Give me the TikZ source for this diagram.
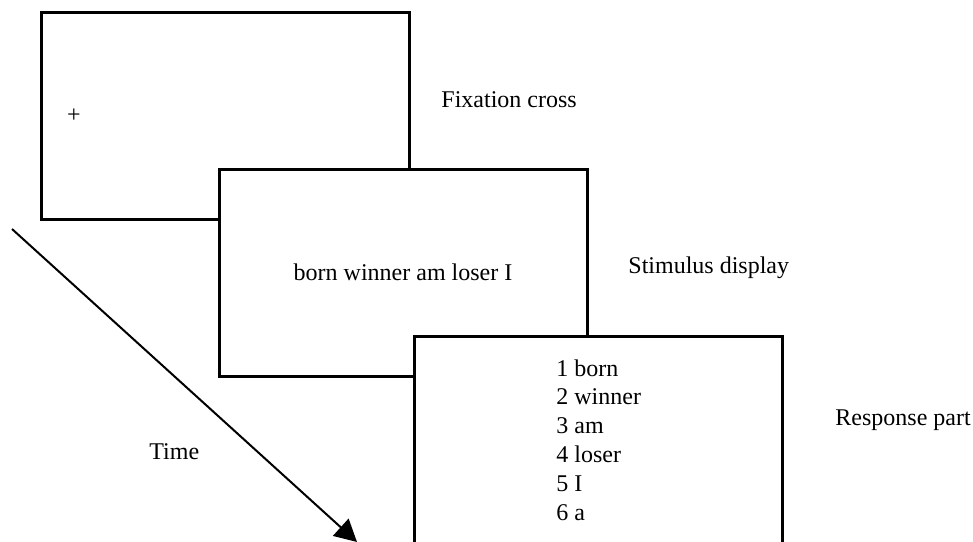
\documentclass[tikz,border=0pt]{standalone}
\usepackage{fontspec}
\setmainfont{Liberation Serif}
\usepackage{tikz}
\usetikzlibrary{arrows.meta, positioning}

\tikzset{
  screen/.style = {draw, line width=1.5pt, fill=white, minimum width=184pt, minimum height=103.5pt, inner sep=0pt, font=\fontsize{12}{14.4}\selectfont},
  lbl/.style = {inner sep=0pt, font=\fontsize{12}{14.4}\selectfont},
  timearrow/.style = {line width=1pt, -{Triangle[length=11pt, width=11.5pt]}}
}

\begin{document}
\begin{tikzpicture}[x=0.5pt, y=-0.5pt]
\useasboundingbox (0,0) rectangle (973,541);
\clip (0,0) rectangle (973,541);
\node[screen] (fix) at (225,115.5) {};
\node[lbl] (cross) at (74,116) {+};
\node[screen] (stim) at (403,272.5) {born winner am loser I};
\node[screen] (resp) at (598,439.5) {};
\foreach \w [count=\i] in {born, winner, am, loser, I, a}
  \node[lbl, anchor=base west] (r\i) at (556,{376+28.8*(\i-1)}) {\i\ \w};
\node[lbl, anchor=base west] (fixlbl) at (441,107) {Fixation cross};
\node[lbl, anchor=base west] (stimlbl) at (628,273) {Stimulus display};
\node[lbl, anchor=base west] (resplbl) at (835,425) {Response part};
\node[lbl, anchor=base west] (timelbl) at (149,459) {Time};
\coordinate (ts) at (12,229);
\coordinate (te) at (357,542);
\draw[timearrow] (ts) -- (te);
\end{tikzpicture}
\end{document}
